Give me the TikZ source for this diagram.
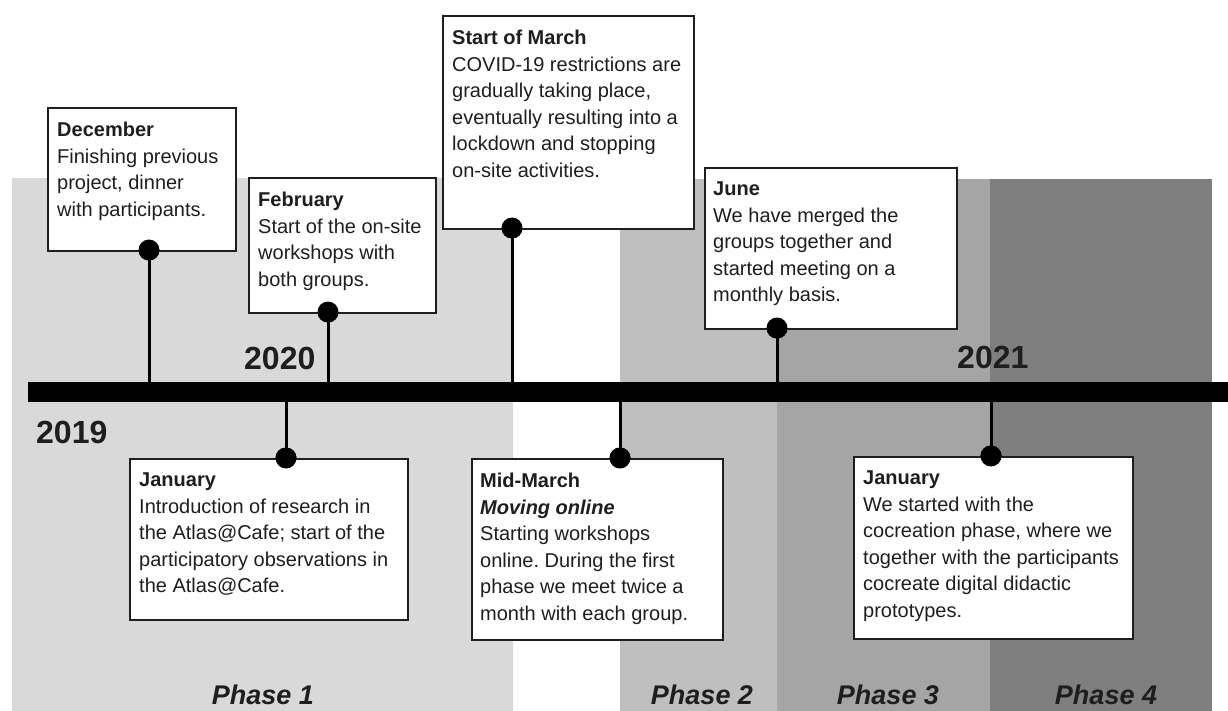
\documentclass[tikz,border=0pt]{standalone}
\usepackage{fontspec}
\setmainfont{Liberation Sans}
\frenchspacing
\definecolor{ph1}{HTML}{D9D9D9}
\definecolor{ph2}{HTML}{BFBFBF}
\definecolor{ph3}{HTML}{A5A5A5}
\definecolor{ph4}{HTML}{7F7F7F}
\definecolor{ink}{HTML}{1E1E1E}
\tikzset{
  evbox/.style={draw=ink, line width=2pt, fill=white, inner sep=0pt, anchor=north west},
  evtext/.style={anchor=north west, inner sep=0pt, align=left, text=ink, font=\fontsize{20}{26.5}\selectfont},
  evdot/.style={circle, fill=black, inner sep=0pt, minimum size=21pt},
  stemline/.style={line width=3pt, draw=black},
  yearlbl/.style={anchor=base west, inner sep=0pt, text=ink, font=\fontsize{32}{36}\selectfont\bfseries},
  phaselbl/.style={anchor=base, inner sep=0pt, text=ink, font=\fontsize{27}{30}\selectfont\bfseries\itshape},
}
\begin{document}
\begin{tikzpicture}[x=1pt,y=-1pt]
\useasboundingbox (0,0) rectangle (1228,711);
% phase backgrounds
\fill[ph1] (12,178) rectangle (513,711);
\fill[ph2] (620,179) rectangle (777,711);
\fill[ph3] (777,179) rectangle (990,711);
\fill[ph4] (990,179) rectangle (1212,711);
% timeline bar
\node[fill=black, inner sep=0pt, minimum width=1200pt, minimum height=20pt, anchor=west] (bar) at (28,392) {};
% year labels
\node[yearlbl] (y19) at (36,443) {2019};
\node[yearlbl] (y20) at (244,369) {2020};
\node[yearlbl] (y21) at (957,368) {2021};
% dots
\node[evdot] (dA) at (149,250) {};
\node[evdot] (dB) at (328,312) {};
\node[evdot] (dC) at (512,228) {};
\node[evdot] (dD) at (777,328) {};
\node[evdot] (dE) at (286,458) {};
\node[evdot] (dF) at (620,458) {};
\node[evdot] (dG) at (991,456) {};
% stems
\foreach \d in {dA,dB,dC,dD,dE,dF,dG}
  \draw[stemline] (\d.center) -- (\d.center |- bar.center);
% boxes
\node[evbox, minimum width=188pt, minimum height=143pt] (bA) at (47,107) {};
\node[evbox, minimum width=187pt, minimum height=135pt] (bB) at (248,177) {};
\node[evbox, minimum width=251pt, minimum height=213pt] (bC) at (442,15) {};
\node[evbox, minimum width=252pt, minimum height=161pt] (bD) at (704,167) {};
\node[evbox, minimum width=278pt, minimum height=161pt] (bE) at (129,458) {};
\node[evbox, minimum width=251pt, minimum height=181pt] (bF) at (471,458) {};
\node[evbox, minimum width=279pt, minimum height=182pt] (bG) at (853,456) {};
% redraw dots on top of boxes
\foreach \d in {dA,dB,dC,dD,dE,dF,dG}
  \fill[black] (\d.center) circle (10.5pt);
% texts
\node[evtext] (tA) at ([shift={(10,15)}]bA.north west) {\textbf{December}\\Finishing previous\\project, dinner\\with participants.};
\node[evtext] (tB) at ([shift={(10,15)}]bB.north west) {\textbf{February}\\Start of the on-site\\workshops with\\both groups.};
\node[evtext] (tC) at ([shift={(10,15)}]bC.north west) {\textbf{Start of March}\\COVID-19 restrictions are\\gradually taking place,\\eventually resulting into a\\lockdown and stopping\\on-site activities.};
\node[evtext] (tD) at ([shift={(9,15)}]bD.north west) {\textbf{June}\\We have merged the\\groups together and\\started meeting on a\\monthly basis.};
\node[evtext] (tE) at ([shift={(10,15)}]bE.north west) {\textbf{January}\\Introduction of research in\\the Atlas@Cafe; start of the\\participatory observations in\\the Atlas@Cafe.};
\node[evtext] (tF) at ([shift={(9,15)}]bF.north west) {\textbf{Mid-March}\\\textbf{\textit{Moving online}}\\Starting workshops\\online. During the first\\phase we meet twice a\\month with each group.};
\node[evtext] (tG) at ([shift={(10,15)}]bG.north west) {\textbf{January}\\We started with the\\cocreation phase, where we\\together with the participants\\cocreate digital didactic\\prototypes.};
% phase labels
\node[phaselbl] (p1) at (263,704) {Phase 1};
\node[phaselbl] (p2) at (702,704) {Phase 2};
\node[phaselbl] (p3) at (888,704) {Phase 3};
\node[phaselbl] (p4) at (1106,704) {Phase 4};
\end{tikzpicture}
\end{document}
